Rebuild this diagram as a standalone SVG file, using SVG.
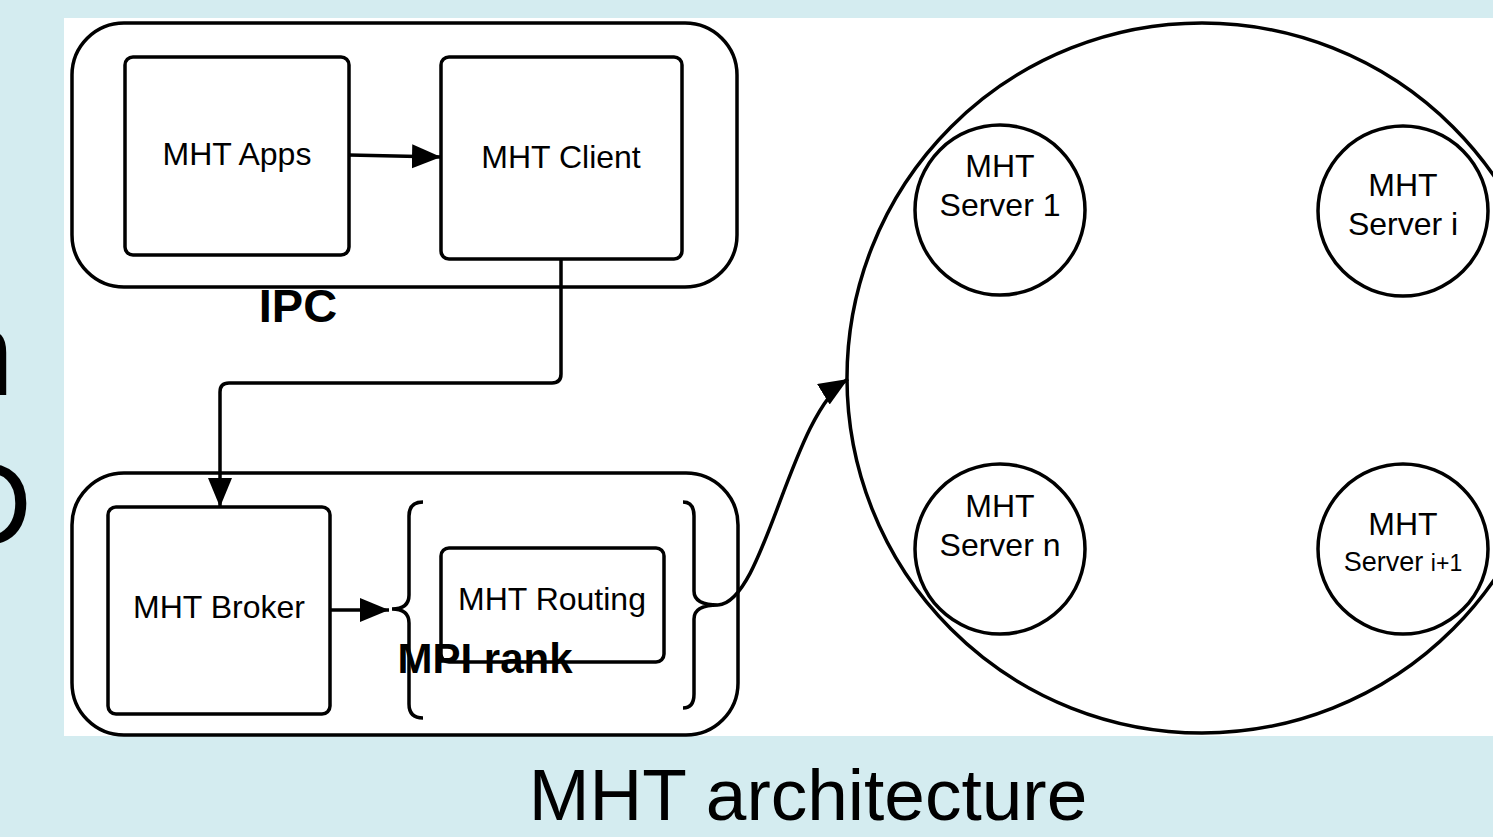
<svg xmlns="http://www.w3.org/2000/svg" width="1493" height="837" viewBox="0 0 1493 837">
<style>
text{font-family:"Liberation Sans",Arial,sans-serif;fill:#000}
.frame{fill:none;stroke:#000;stroke-width:3.5}
.box{fill:#fff;stroke:#000;stroke-width:3.5}
.lbl{font-size:32px;text-anchor:middle}
.bold{font-weight:bold}
.conn{fill:none;stroke:#000;stroke-width:3.5}
</style>
<defs>
<marker id="arr" markerUnits="userSpaceOnUse" markerWidth="32" markerHeight="26" refX="29" refY="12" orient="auto" viewBox="0 0 32 26">
<path d="M0,0 L29,12 L0,24 Z" fill="#000"/>
</marker>
</defs>
<rect x="0" y="0" width="1493" height="837" fill="#d4ecf0"/>
<rect x="64" y="18" width="1429" height="718" fill="#fff"/>
<text x="14" y="395" font-size="120" text-anchor="end">n</text>
<text x="32" y="545" font-size="118" text-anchor="end">D</text>

<g id="ipc-group">
<rect class="frame" x="72" y="23" width="665" height="264" rx="52"/>
<text class="bold" x="298" y="322" font-size="47" text-anchor="middle">IPC</text>
</g>
<g id="mht-apps">
<rect class="box" x="125" y="57" width="224" height="198" rx="8"/>
<text class="lbl" x="237" y="165">MHT Apps</text>
</g>
<g id="mht-client">
<rect class="box" x="441" y="57" width="241" height="202" rx="8"/>
<text class="lbl" x="561" y="168">MHT Client</text>
</g>

<g id="mpi-group">
<rect class="frame" x="72" y="473" width="666" height="262" rx="52"/>
</g>
<g id="mht-broker">
<rect class="box" x="108" y="507" width="222" height="207" rx="8"/>
<text class="lbl" x="219" y="618">MHT Broker</text>
</g>
<g id="mht-routing">
<rect class="box" x="441" y="548" width="223" height="114" rx="8"/>
<text class="lbl" x="552" y="610">MHT Routing</text>
</g>
<g id="mpi-rank">
<path class="frame" d="M423,502 Q409,502 409,516 L409,595 Q409,609 392,609 Q409,609 409,623 L409,704 Q409,718 423,718"/>
<path class="frame" d="M683,502 Q694,502 694,516 L694,591 Q694,605 718,605 Q694,605 694,619 L694,694 Q694,708 683,708"/>
<text class="bold" x="485" y="673" font-size="42" text-anchor="middle">MPI rank</text>
</g>

<g id="server-ring">
<circle class="frame" cx="1202" cy="378" r="355"/>
</g>
<g id="server-1">
<circle class="box" cx="1000" cy="210" r="85"/>
<text class="lbl" x="1000" y="177">MHT</text>
<text class="lbl" x="1000" y="216">Server 1</text>
</g>
<g id="server-i">
<circle class="box" cx="1403" cy="211" r="85"/>
<text class="lbl" x="1403" y="196">MHT</text>
<text class="lbl" x="1403" y="235">Server i</text>
</g>
<g id="server-n">
<circle class="box" cx="1000" cy="549" r="85"/>
<text class="lbl" x="1000" y="517">MHT</text>
<text class="lbl" x="1000" y="556">Server n</text>
</g>
<g id="server-i1">
<circle class="box" cx="1403" cy="549" r="85"/>
<text class="lbl" x="1403" y="535">MHT</text>
<text x="1403" y="571" font-size="27" text-anchor="middle">Server <tspan font-size="23">i+1</tspan></text>
</g>

<g id="connectors">
<path class="conn" d="M349,155 L441,157" marker-end="url(#arr)"/>
<path class="conn" d="M561,259 L561,374 Q561,383 552,383 L229,383 Q220,383 220,392 L220,507" marker-end="url(#arr)"/>
<path class="conn" d="M330,610 L389,610" marker-end="url(#arr)"/>
<path class="conn" d="M718,605 C765,602 790,415 848,379" marker-end="url(#arr)"/>
</g>

<text x="808" y="820" font-size="73" text-anchor="middle">MHT architecture</text>
</svg>
